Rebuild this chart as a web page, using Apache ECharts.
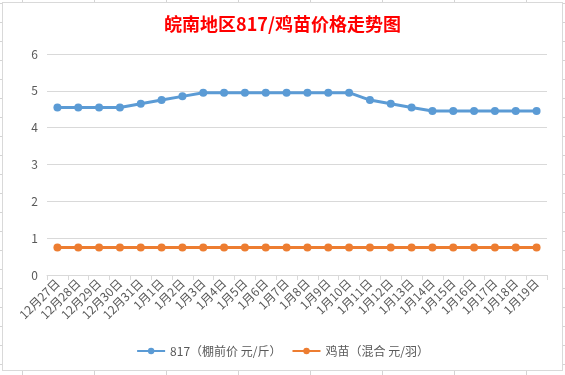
<!DOCTYPE html>
<html>
<head>
<meta charset="utf-8">
<script src="https://cdn.jsdelivr.net/npm/echarts@6/dist/echarts.min.js"></script>
<style>
  html, body {
    margin: 0;
    width: 565px;
    height: 375px;
    overflow: hidden;
  }
  body {
    position: relative;
    background-color: #fff;
    background-image:
      linear-gradient(to right, #d4d4d4 1px, transparent 1px),
      linear-gradient(to bottom, #d4d4d4 1px, transparent 1px);
    background-size: 72px 19px;
    background-position: 22px 3px;
  }
  .box {
    position: absolute;
    left: 2px;
    top: 2px;
    width: 559px;
    height: 367px;
    background: #fff;
    border: 1px solid #d9d9d9;
  }
  #chart {
    position: absolute;
    left: 0;
    top: 0;
    width: 565px;
    height: 375px;
  }
</style>
</head>
<body>
<div class="box"></div>
<div id="chart"></div>
<script>
// 日期
var dates = ['12月27日', '12月28日', '12月29日', '12月30日', '12月31日', '1月1日', '1月2日', '1月3日',
  '1月4日', '1月5日', '1月6日', '1月7日', '1月8日', '1月9日', '1月10日', '1月11日',
  '1月12日', '1月13日', '1月14日', '1月15日', '1月16日', '1月17日', '1月18日', '1月19日']
// 817 棚前价 元/斤
var price817 = [4.55, 4.55, 4.55, 4.55, 4.65, 4.75, 4.85, 4.95,
  4.95, 4.95, 4.95, 4.95, 4.95, 4.95, 4.95, 4.75,
  4.65, 4.55, 4.45, 4.45, 4.45, 4.45, 4.45, 4.45]
// 鸡苗 混合 元/羽
var priceChick = [0.75, 0.75, 0.75, 0.75, 0.75, 0.75, 0.75, 0.75,
  0.75, 0.75, 0.75, 0.75, 0.75, 0.75, 0.75, 0.75,
  0.75, 0.75, 0.75, 0.75, 0.75, 0.75, 0.75, 0.75]

var font = '"Noto Sans CJK SC", "Microsoft YaHei", sans-serif'
var myChart = echarts.init(document.getElementById('chart'))
var option = {
  backgroundColor: 'transparent',
  animation: false,
  textStyle: { fontFamily: font },
  title: {
    text: '皖南地区817/鸡苗价格走势图',
    left: 'center',
    top: 10,
    textStyle: {
      color: '#ff0000',
      fontSize: 18,
      fontWeight: 'bold',
      fontFamily: font
    }
  },
  legend: {
    bottom: 13,
    left: 'center',
    itemWidth: 28,
    itemHeight: 8,
    itemGap: 10,
    textStyle: { color: '#595959', fontSize: 12, fontFamily: font },
    data: ['817（棚前价 元/斤）', '鸡苗（混合 元/羽）']
  },
  grid: {
    left: 47,
    right: 18,
    top: 54,
    bottom: 100
  },
  xAxis: {
    type: 'category',
    data: dates,
    axisLine: { lineStyle: { color: '#d9d9d9', width: 1 } },
    axisTick: { show: true, length: 5, lineStyle: { color: '#d9d9d9' } },
    axisLabel: {
      rotate: 45,
      interval: 0,
      color: '#595959',
      fontSize: 12,
      margin: 6,
      fontFamily: font
    }
  },
  yAxis: {
    type: 'value',
    min: 0,
    max: 6,
    interval: 1,
    axisLine: { show: false },
    axisTick: { show: false },
    axisLabel: { color: '#595959', fontSize: 12, margin: 9, fontFamily: font },
    splitLine: { lineStyle: { color: '#d9d9d9', width: 1 } }
  },
  series: [
    {
      name: '817（棚前价 元/斤）',
      type: 'line',
      data: price817,
      symbol: 'circle',
      symbolSize: 8,
      itemStyle: { color: '#5b9bd5' },
      lineStyle: { color: '#5b9bd5', width: 3 }
    },
    {
      name: '鸡苗（混合 元/羽）',
      type: 'line',
      data: priceChick,
      symbol: 'circle',
      symbolSize: 8,
      itemStyle: { color: '#ed7d31' },
      lineStyle: { color: '#ed7d31', width: 3 }
    }
  ]
}
myChart.setOption(option)
</script>
</body>
</html>
